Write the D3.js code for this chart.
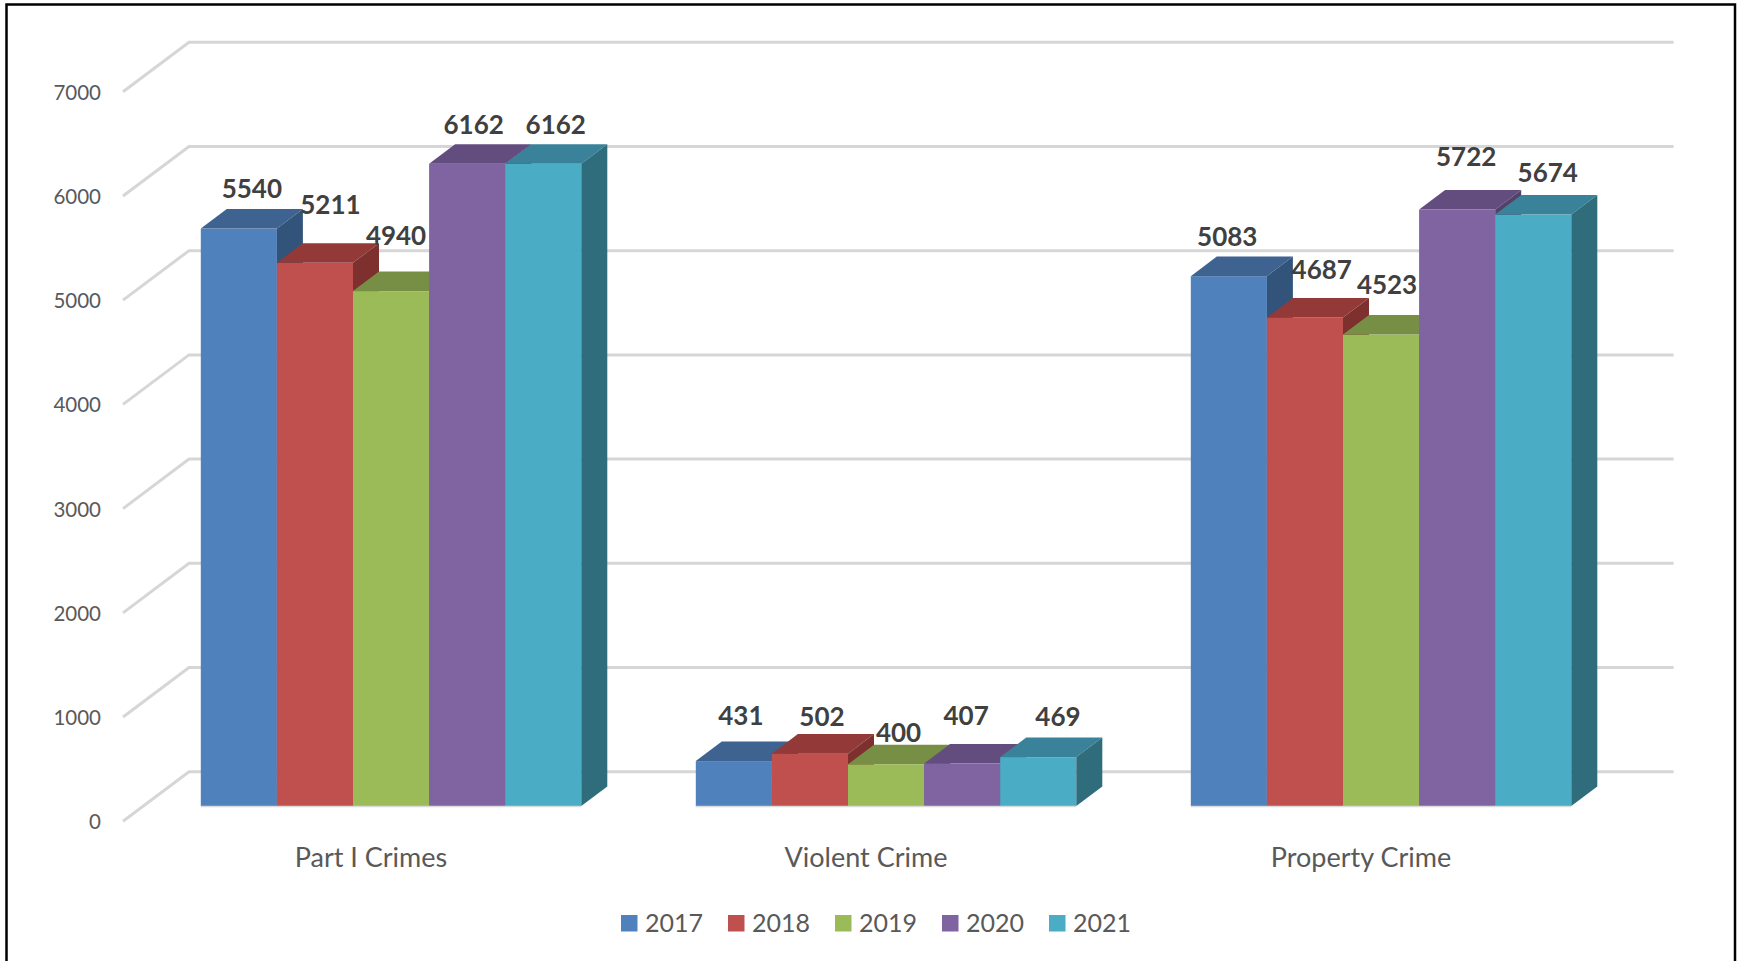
<!DOCTYPE html>
<meta charset="utf-8">
<style>
  body { margin: 0; background: white; }
  text { font-family: Lato, "Noto Sans", sans-serif; }
</style>

<!-- Load d3.js -->
<script src="https://d3js.org/d3.v7.min.js"></script>

<div id="chart"></div>

<script>

    // values
    const categories = ["Part I Crimes", "Violent Crime", "Property Crime"];
    const years = ["2017", "2018", "2019", "2020", "2021"];
    const values2017 = [5540, 431, 5083];
    const values2018 = [5211, 502, 4687];
    const values2019 = [4940, 400, 4523];
    const values2020 = [6162, 407, 5722];
    const values2021 = [6162, 469, 5674];
    const yTicks = [0, 1000, 2000, 3000, 4000, 5000, 6000, 7000];

    const seriesValues = [values2017, values2018, values2019, values2020, values2021];

    // front, top and side colours per year
    const frontColors = ["#4F81BD", "#C0504D", "#9BBB59", "#8064A2", "#4BACC6"];
    const topColors = ["#3E6390", "#933A38", "#778F45", "#634D7E", "#39829A"];
    const sideColors = ["#33547A", "#7E302E", "#657A3A", "#544169", "#2F6C7C"];

    // the data labels were moved by hand in the original, [series][category]
    const labelDx = [[13, 7, -1.6], [15.5, 12, 16.8], [5, 12.5, 6], [6.5, 4, 9], [12.5, 19.7, 14.5]];
    const labelDy = [[-39.5, -45, -39], [-58, -37, -47.7], [-55, -31.6, -49.7], [-39, -47.7, -53], [-39, -40, -41.7]];

    const width = 1742, height = 961;

    const svg = d3.select("#chart")
      .append("svg")
        .attr("width", width)
        .attr("height", height)
        .style("display", "block");

    // outer frame, the bottom edge runs off the picture
    svg.append("rect")
        .attr("x", 6.5).attr("y", 4.5)
        .attr("width", 1728.5).attr("height", 980)
        .attr("fill", "white")
        .attr("stroke", "black")
        .attr("stroke-width", 2.5);

    // scales work on the front edge of the floor
    const left = 123, right = 1607.6;
    const depthX = 66, depthY = 49.5;       // wall is this far behind the front edge
    const barShiftX = 20.05, barShiftY = 15.3;  // front face of the bars
    const barDepthX = 26, barDepthY = 19.6;

    const y = d3.scaleLinear().domain([0, 7000]).range([821.3, 91.7]);
    const x0 = d3.scaleBand().domain(categories).range([123.5, 1608.5]);
    const x1 = d3.scaleBand().domain(years).range([0, 380.5]);

    // gridlines: slanted part on the side wall, then along the back wall
    svg.append("g")
      .selectAll("path")
      .data(yTicks)
      .join("path")
        .attr("d", d => d3.line()([[left, y(d)], [left + depthX, y(d) - depthY], [right + depthX, y(d) - depthY]]))
        .attr("fill", "none")
        .attr("stroke", "#D6D6D6")
        .attr("stroke-width", 3);

    // Y axis
    const yAxis = svg.append("g")
      .attr("transform", "translate(" + left + ",1)")
      .call(d3.axisLeft(y).tickValues(yTicks).tickFormat(d3.format("d")).tickSize(0).tickPadding(22));
    yAxis.select(".domain").remove();
    yAxis.selectAll("text")
        .style("font-family", "Lato")
        .style("font-size", "20.5px")
        .attr("fill", "#595959");

    // bars, left to right so that each one covers the side of the one before
    const bars = [];
    categories.forEach(function(c, ci) {
      years.forEach(function(yr, si) {
        bars.push({category: c, year: yr, series: si, index: ci, value: seriesValues[si][ci]});
      });
    });

    const barX = d => x0(d.category) + x0.bandwidth() / 2 + barShiftX - x1.range()[1] / 2 + x1(d.year);
    const barTop = d => y(d.value) - barShiftY;
    const barBottom = y(0) - barShiftY;

    const bar = svg.append("g")
      .selectAll("g")
      .data(bars)
      .join("g");

    bar.append("rect")
        .attr("x", barX)
        .attr("y", barTop)
        .attr("width", x1.bandwidth())
        .attr("height", d => barBottom - barTop(d))
        .attr("fill", d => frontColors[d.series]);

    bar.append("path")
        .attr("d", function(d) {
          const a = barX(d), b = a + x1.bandwidth(), t = barTop(d);
          return d3.line()([[a, t], [b, t], [b + barDepthX, t - barDepthY], [a + barDepthX, t - barDepthY]]) + "Z";
        })
        .attr("fill", d => topColors[d.series]);

    bar.append("path")
        .attr("d", function(d) {
          const b = barX(d) + x1.bandwidth(), t = barTop(d);
          return d3.line()([[b, t], [b + barDepthX, t - barDepthY], [b + barDepthX, barBottom - barDepthY], [b, barBottom]]) + "Z";
        })
        .attr("fill", d => sideColors[d.series]);

    // thin line under each cluster
    svg.append("g")
      .selectAll("line")
      .data(categories)
      .join("line")
        .attr("x1", d => x0(d) + x0.bandwidth() / 2 + barShiftX - x1.range()[1] / 2)
        .attr("x2", d => x0(d) + x0.bandwidth() / 2 + barShiftX + x1.range()[1] / 2)
        .attr("y1", barBottom + 0.5)
        .attr("y2", barBottom + 0.5)
        .attr("stroke", "#D9D9D9")
        .attr("stroke-width", 1.5);

    // value labels
    svg.append("g")
      .selectAll("text")
      .data(bars)
      .join("text")
        .text(d => d.value)
        .attr("x", d => barX(d) + x1.bandwidth() / 2 + labelDx[d.series][d.index])
        .attr("y", d => barTop(d) + labelDy[d.series][d.index])
        .attr("dy", "0.35em")
        .attr("text-anchor", "middle")
        .attr("font-size", 26)
        .attr("font-weight", 700)
        .attr("fill", "#404040");

    // category labels
    svg.append("g")
      .selectAll("text")
      .data(categories)
      .join("text")
        .text(d => d)
        .attr("x", d => x0(d) + x0.bandwidth() / 2)
        .attr("y", 858)
        .attr("dy", "0.35em")
        .attr("text-anchor", "middle")
        .attr("font-size", 27)
        .attr("fill", "#595959");

    // legend
    const legendX = d3.scalePoint().domain(years).range([621, 1049]);

    const legend = svg.append("g")
      .selectAll("g")
      .data(years)
      .join("g")
        .attr("transform", d => "translate(" + legendX(d) + ",915)");

    legend.append("rect")
        .attr("width", 16.5)
        .attr("height", 16.5)
        .attr("fill", (d, i) => frontColors[i]);

    legend.append("text")
        .text(d => d)
        .attr("x", 24)
        .attr("y", 8)
        .attr("dy", "0.35em")
        .attr("font-size", 25)
        .attr("fill", "#595959");

</script>
